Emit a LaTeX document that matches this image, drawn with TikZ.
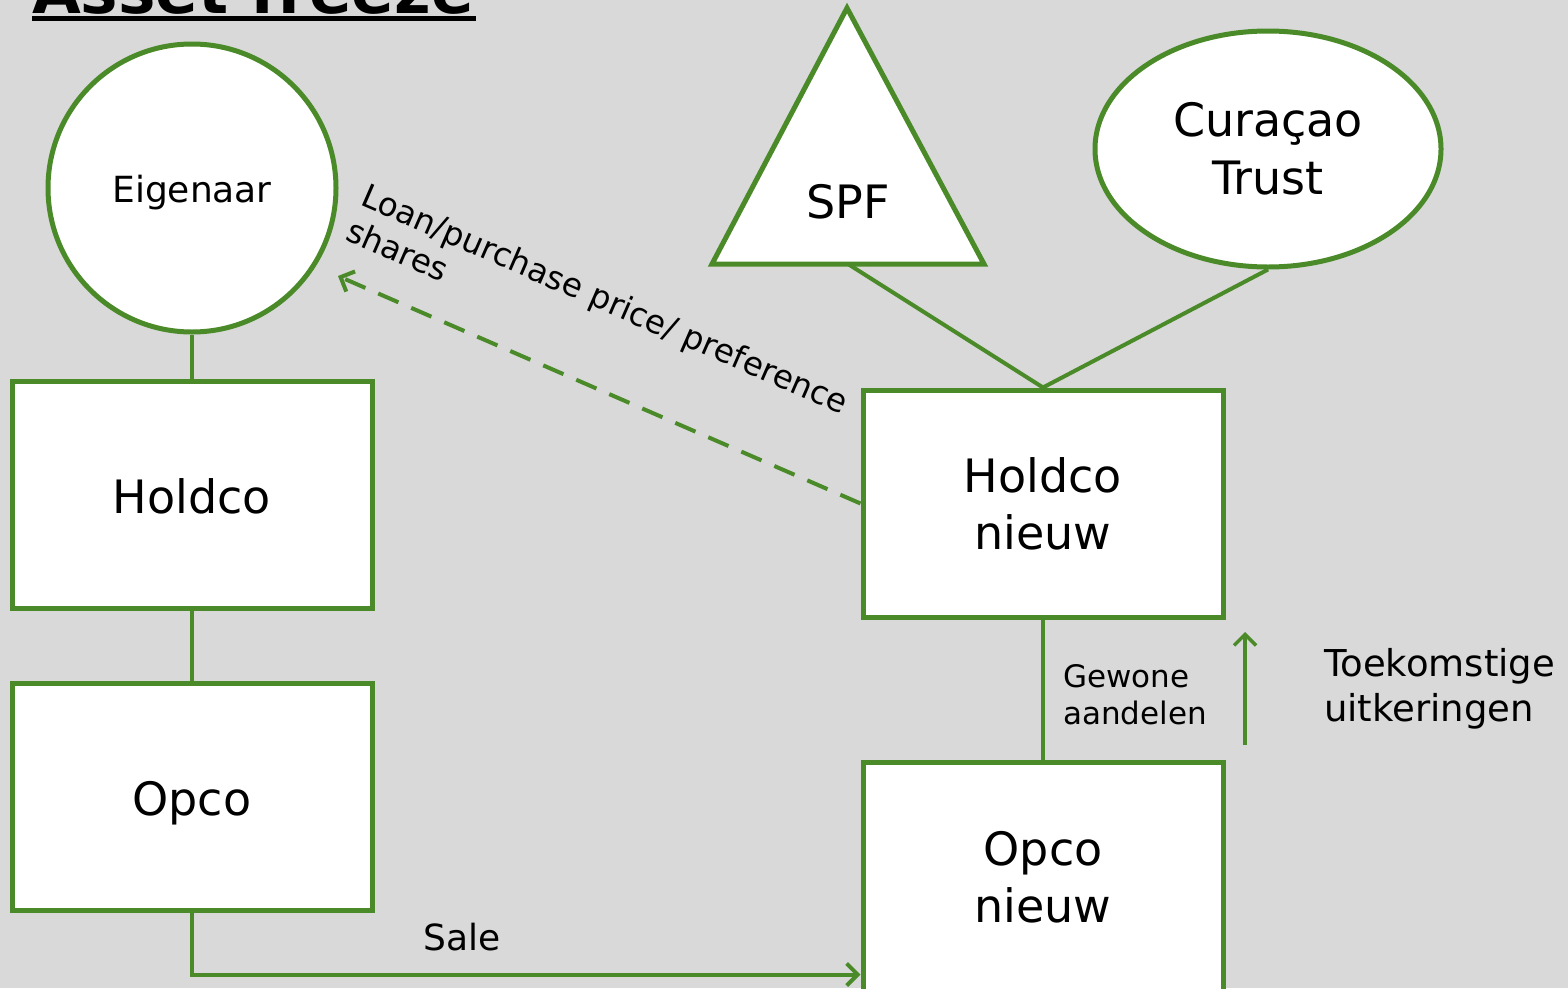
\documentclass[tikz,border=0pt]{standalone}
\usepackage{fontspec}
\setmainfont{DejaVu Sans}
\usetikzlibrary{arrows.meta,shapes.geometric}
\definecolor{grn}{RGB}{74,138,40}
\definecolor{bg}{RGB}{217,217,217}
\newcommand\fsz[2]{\fontsize{#1}{#2}\selectfont}
\newcommand\lowr[2]{\raisebox{-#1}[\height][\depth]{#2}}
\begin{document}
\begin{tikzpicture}[x=1pt,y=-1pt,
  box/.style={draw=grn,fill=white,line width=5pt,minimum width=360pt,minimum height=227pt,inner sep=0pt,align=center,font=\fsz{46}{57}},
  conn/.style={draw=grn,line width=4pt},
  barb/.style={-{Straight Barb[length=11pt,width=22pt]}},
  lbl/.style={inner sep=0pt,align=left}]
\fill[bg] (0,0) rectangle (1568,988);
\useasboundingbox (0,0) rectangle (1568,988);
% title
\node[anchor=base west,inner sep=0pt,font=\bfseries\fsz{63}{70}] (title) at (32,13) {Asset freeze};
\fill (32,16) rectangle (476,21);
% left side
\node[circle,draw=grn,fill=white,line width=5pt,minimum size=288pt,inner sep=0pt,font=\fsz{36}{42}] (eig) at (192,188) {\lowr{5pt}{Eigenaar}};
\node[box] (hold) at (192,494.5) {\lowr{2pt}{Holdco}};
\node[box] (opco) at (192,797) {\lowr{6pt}{Opco}};
% right side
\node[box] (hnw) at (1043,503.5) {Holdco\\nieuw};
\node[box,minimum height=230pt] (opn) at (1043,877) {Opco\\nieuw};
\draw[draw=grn,fill=white,line width=5pt,line join=miter] (847,8) -- (984,264) -- (712,264) -- cycle;
\node[inner sep=0pt,font=\fsz{46}{55}] (spf) at (848,202) {SPF};
\coordinate (spfb) at (848,264);
\node[ellipse,draw=grn,fill=white,line width=5pt,minimum width=346pt,minimum height=236pt,inner sep=0pt,align=center,font=\fsz{46}{58}] (cur) at (1268,149) {Cura\c{c}ao\\Trust};
% connectors
\draw[conn] (eig.south) -- (hold.north);
\draw[conn] (hold.south) -- (opco.north);
\draw[conn,barb] (opco.south) |- ([yshift=20pt]opn.south west);
\draw[conn] (hnw.south) -- (opn.north);
\draw[conn] (spfb) -- (hnw.north);
\draw[conn] (cur.south) -- (hnw.north);
\coordinate (dashend) at (338,276);
\draw[conn,barb,dash pattern=on 22pt off 14pt] (hnw.west) -- (dashend);
\coordinate (ua) at (1245,745);
\coordinate (ub) at (1245,632);
\draw[conn,line width=3.5pt,-{Straight Barb[length=11pt,width=22pt]}] (ua) -- (ub);
% labels
\node[anchor=base,inner sep=0pt,font=\fsz{36}{42}] (sale) at (462,950) {Sale};
\node[lbl,anchor=west,font=\fsz{31}{37}] (gew) at (1063,695) {Gewone\\aandelen};
\node[lbl,anchor=west,font=\fsz{37}{45}] (toek) at (1324,689) {Toekomstige\\uitkeringen};
\node[lbl,rotate=-23.5,anchor=north west,font=\fsz{32.5}{38}] (loan) at (369,182) {Loan/purchase price/ preference\\shares};
\end{tikzpicture}
\end{document}
